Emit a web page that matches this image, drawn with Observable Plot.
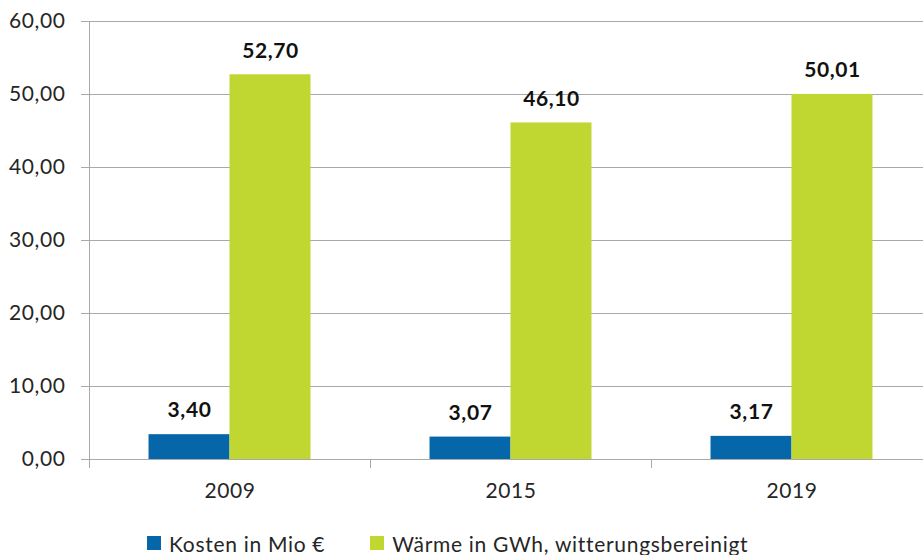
<!DOCTYPE html>
<html><head><meta charset="utf-8">
<script src="https://cdn.jsdelivr.net/npm/d3@7"></script>
<script src="https://cdn.jsdelivr.net/npm/@observablehq/plot@0.6"></script>
<style>
html,body{margin:0;padding:0;background:#fff;overflow:hidden;}
#chart{width:923px;height:555px;overflow:hidden;font-family:Lato,sans-serif;}
#chart svg{max-width:none;}
#legend{display:flex;align-items:center;height:28px;margin-top:9px;padding-left:147px;font-size:21px;letter-spacing:0.7px;color:#262626;font-family:Lato,sans-serif;white-space:nowrap;}
#legend .item{display:inline-flex;align-items:center;margin-right:45px;}
#legend .sw{display:inline-block;width:14px;height:14px;margin-right:8px;}
</style></head><body><div id="chart"></div>
<script>
const years = ["2009", "2015", "2019"];
const series = ["Kosten in Mio €", "Wärme in GWh, witterungsbereinigt"];
const kosten = [3.40, 3.07, 3.17];
const waerme = [52.70, 46.10, 50.01];
const yTicks = [0, 10, 20, 30, 40, 50, 60];
const colors = ["#0566aa", "#c0d631"];

const data = years.flatMap((y, i) => [
  {year: y, series: series[0], value: kosten[i]},
  {year: y, series: series[1], value: waerme[i]}
]);
const fmt = v => v.toFixed(2).replace(".", ",");
const grey = "#a9a9a9";

const plot = Plot.plot({
  width: 935,
  height: 520,
  marginLeft: 88,
  marginRight: 2,
  marginTop: 21,
  marginBottom: 61,
  style: {fontFamily: "Lato, sans-serif", background: "#fff", overflow: "visible", letterSpacing: "0.6px"},
  fx: {domain: years, padding: 0},
  x: {domain: series, paddingInner: 0, paddingOuter: 0.735, round: false, axis: null},
  y: {domain: [0, 60]},
  color: {domain: series, range: colors},
  marks: [
    Plot.gridY(yTicks, {stroke: grey, strokeOpacity: 1}),
    Plot.barY(data, {fx: "year", x: "series", y: "value", fill: "series"}),
    Plot.text(data, {fx: "year", x: "series", y: "value", text: d => fmt(d.value), dy: -24,
      fontSize: 21, fontWeight: "bold", fill: "#111", lineAnchor: "middle"}),
    Plot.ruleY([0], {stroke: grey}),
    Plot.frame({anchor: "left", stroke: grey, insetBottom: -8, facetAnchor: "left"}),
    Plot.frame({anchor: "left", stroke: grey, insetTop: 438, insetBottom: -8}),
    Plot.axisY({ticks: yTicks, tickFormat: fmt, tickSize: 8, tickPadding: 16, stroke: grey,
      fontSize: 21, fill: "#262626", label: null}),
    Plot.axisFx({anchor: "bottom", tickSize: 0, tickPadding: 24, fontSize: 21, fill: "#262626", label: null})
  ]
});
document.getElementById("chart").appendChild(plot);

const legend = d3.select("#chart").append("div").attr("id", "legend");
const items = legend.selectAll(".item").data(series).join("span").attr("class", "item");
items.append("span").attr("class", "sw").style("background", (d, i) => colors[i]);
items.append("span").text(d => d);
</script>
</body></html>
